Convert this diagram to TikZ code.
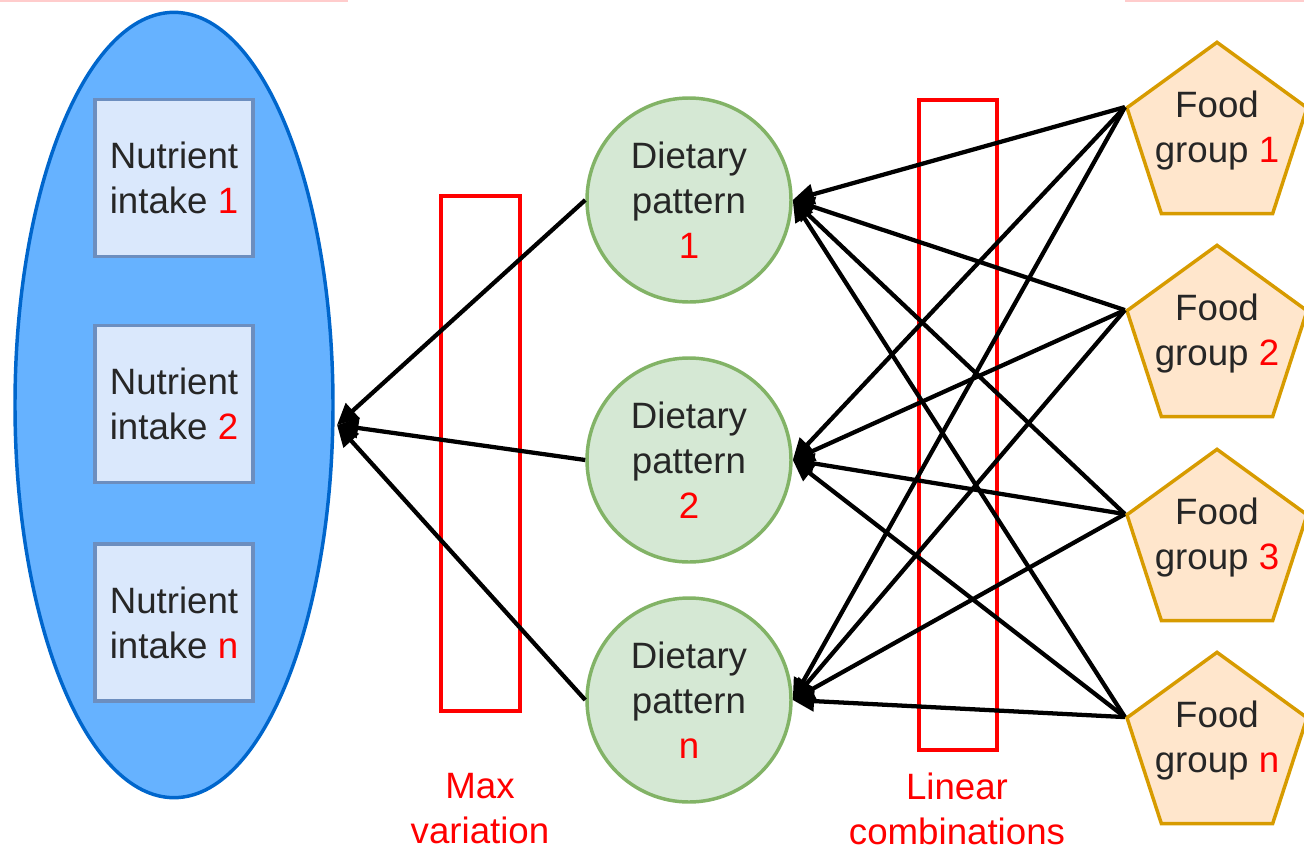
\documentclass[tikz,border=0pt]{standalone}
\usepackage{fontspec}
\setmainfont{Liberation Sans}
\usetikzlibrary{shapes.geometric,arrows.meta}
\definecolor{ellfill}{HTML}{66B2FF}
\definecolor{elldraw}{HTML}{0066CC}
\definecolor{boxfill}{HTML}{DAE8FC}
\definecolor{boxdraw}{HTML}{6C8EBF}
\definecolor{cirfill}{HTML}{D5E8D4}
\definecolor{cirdraw}{HTML}{82B366}
\definecolor{penfill}{HTML}{FFE6CC}
\definecolor{pendraw}{HTML}{D79B00}
\definecolor{myred}{HTML}{FF0000}
\definecolor{pinkline}{HTML}{FFCCCC}
\tikzset{
  txt/.style={font=\fontsize{27.5}{33.75}\selectfont, align=center, text=black!85},
  ellbox/.style={ellipse, draw=elldraw, fill=ellfill, line width=2.6pt, minimum width=238.5pt, minimum height=589pt, inner sep=0pt},
  nutbox/.style={rectangle, draw=boxdraw, fill=boxfill, line width=2.6pt, minimum width=118.5pt, minimum height=118pt, inner sep=0pt, txt},
  patcirc/.style={circle, draw=cirdraw, fill=cirfill, line width=2.6pt, minimum size=153pt, inner sep=0pt, txt},
  foodpen/.style={regular polygon, regular polygon sides=5, draw=pendraw, fill=penfill, line width=2.6pt, minimum size=142pt, inner sep=0pt},
  redbox/.style={rectangle, draw=myred, line width=2.6pt, inner sep=0pt},
  redtxt/.style={font=\fontsize{27.5}{33.75}\selectfont, align=center, text=myred},
  arr/.style={line width=3.2pt, -{Triangle[length=16pt,width=15pt]}},
}
\newcommand{\rd}[1]{\textcolor{myred}{#1}}
\begin{document}
\begin{tikzpicture}[x=0.75pt,y=-0.75pt]
\useasboundingbox (0,0) rectangle (1304,851);
\draw[pinkline, line width=1.5pt] (0,1) -- (348,1);
\draw[pinkline, line width=1.5pt] (1125,1) -- (1304,1);

% left ellipse with nutrient boxes
\node[ellbox] (ell) at (174,405) {};
\node[nutbox] (n1) at (174,178) {Nutrient\\intake \rd{1}};
\node[nutbox] (n2) at (174,404) {Nutrient\\intake \rd{2}};
\node[nutbox] (n3) at (174,622.5) {Nutrient\\intake \rd{n}};
\coordinate (et) at (337,425);

% red boxes
\node[redbox, minimum width=59pt, minimum height=386pt] (mv) at (480.5,453.5) {};
\node[redbox, minimum width=58.5pt, minimum height=487.5pt] (lc) at (958,425) {};
\node[redtxt] (mvl) at (480,809) {Max\\variation};
\node[redtxt] (lcl) at (957,809) {Linear\\combinations};

% dietary patterns
\node[patcirc] (p1) at (689,200) {Dietary\\pattern\\\rd{1}};
\node[patcirc] (p2) at (689,460) {Dietary\\pattern\\\rd{2}};
\node[patcirc] (p3) at (689,700) {Dietary\\pattern\\\rd{n}};

% food groups
\node[foodpen, label={[txt, yshift=5pt]center:Food\\group \rd{1}}] (f1) at (1217,137) {};
\node[foodpen, label={[txt, yshift=5pt]center:Food\\group \rd{2}}] (f2) at (1217,340) {};
\node[foodpen, label={[txt, yshift=5pt]center:Food\\group \rd{3}}] (f3) at (1217,544) {};
\node[foodpen, label={[txt, yshift=5pt]center:Food\\group \rd{n}}] (f4) at (1217,747) {};

% arrows food -> patterns
\foreach \f in {f1,f2,f3,f4}{
  \foreach \p in {p1,p2,p3}{
    \draw[arr] (\f.corner 2) -- (\p.east);
  }
}
% arrows patterns -> ellipse
\foreach \p in {p1,p2,p3}{
  \draw[arr] (\p.west) -- (et);
}
\end{tikzpicture}
\end{document}
